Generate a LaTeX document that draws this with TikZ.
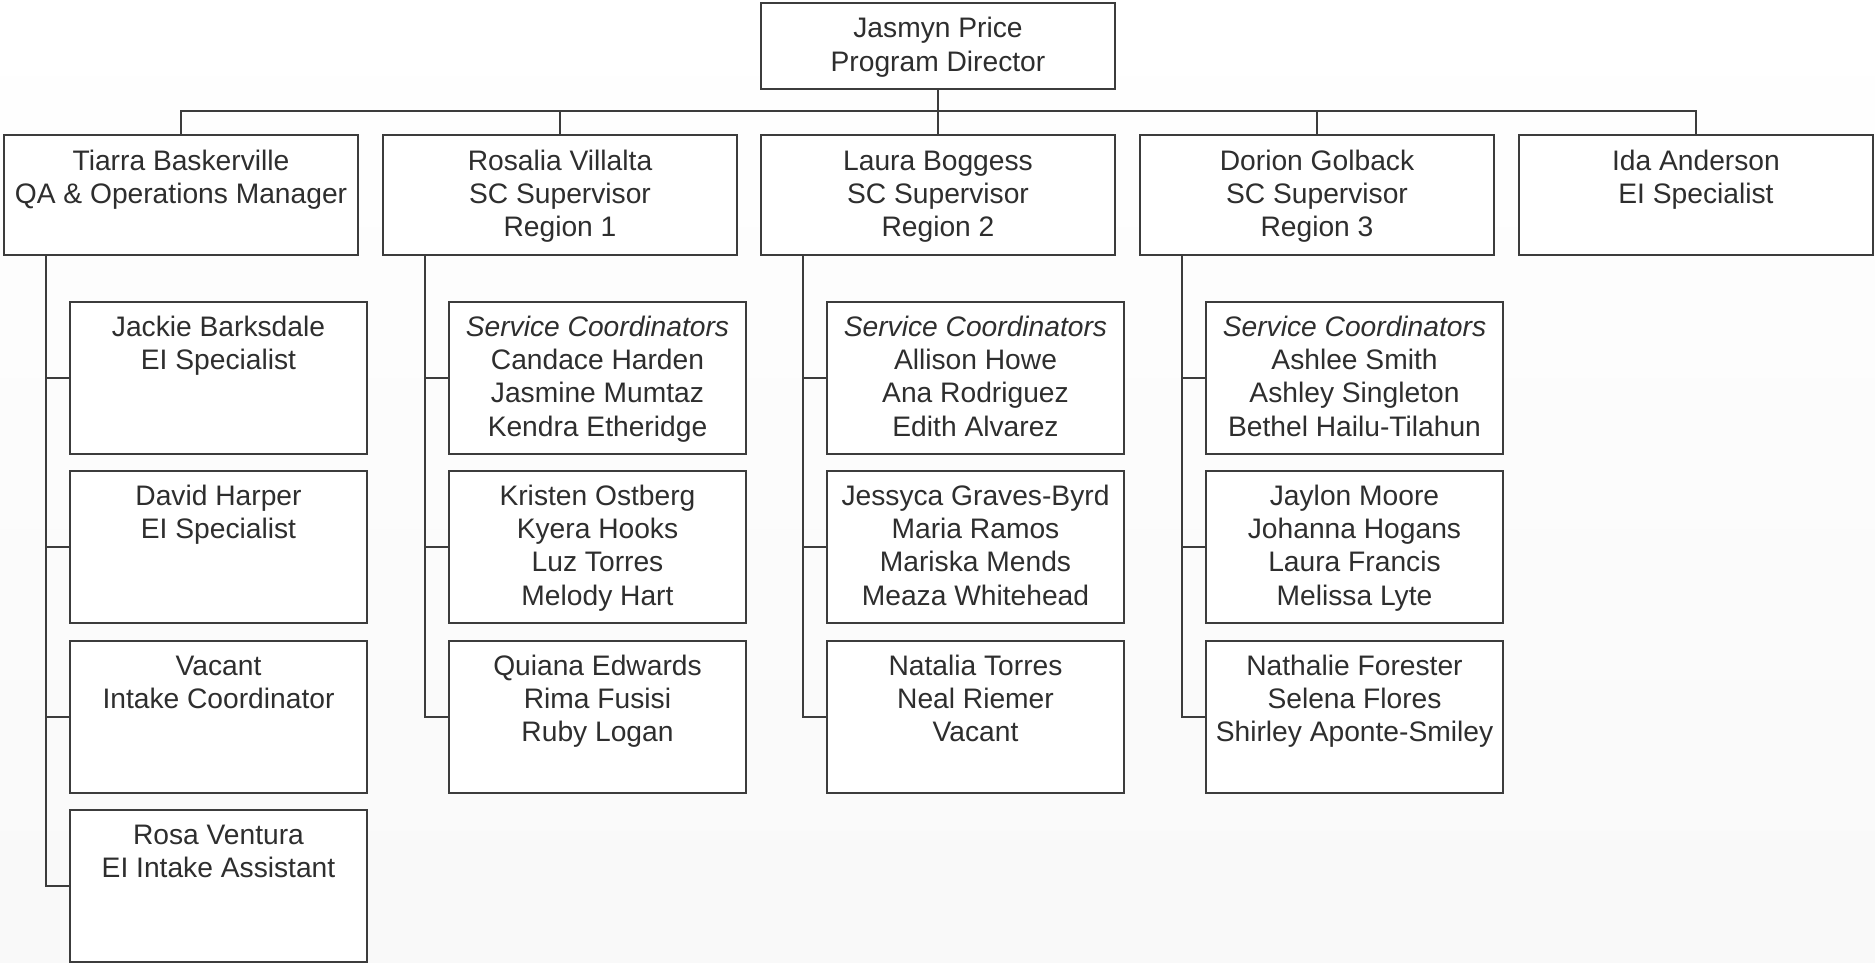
\documentclass[tikz,border=0pt]{standalone}
\usepackage{fontspec}
\setmainfont{Liberation Sans}
\definecolor{ink}{HTML}{2E2E2E}
\definecolor{rule}{HTML}{3C3C3C}
\newcommand{\toptext}[1]{\parbox[t][43pt][t]{177pt}{\centering\rule{0pt}{17.5pt}#1}}
\newcommand{\headtext}[1]{\parbox[t][60pt][t]{177pt}{\centering\rule{0pt}{17.5pt}#1}}
\newcommand{\stafftext}[1]{\parbox[t][76pt][t]{148.5pt}{\centering\rule{0pt}{17pt}#1}}

\begin{document}
\begin{tikzpicture}[x=0.5pt,y=-0.5pt]
\tikzset{
  card/.style={draw=rule, fill=white, line width=1pt, inner sep=0pt, anchor=north west,
    text=ink, font=\fontsize{14.1}{16.7}\selectfont},
  link/.style={draw=rule, line width=1pt}
}
\shade [top color=white, bottom color=gray!5] (0,0) rectangle (1875,963);
\useasboundingbox (0,0) rectangle (1875,963);
% director
\node [card] (director) at (760,2) {\toptext{Jasmyn Price\\Program Director}};
% managers and supervisors
\node [card] (tiarra) at (3,134) {\headtext{Tiarra Baskerville\\QA \& Operations Manager}};
\node [card] (rosalia) at (382,134) {\headtext{Rosalia Villalta\\SC Supervisor\\Region 1}};
\node [card] (laura) at (760,134) {\headtext{Laura Boggess\\SC Supervisor\\Region 2}};
\node [card] (dorion) at (1139,134) {\headtext{Dorion Golback\\SC Supervisor\\Region 3}};
\node [card] (ida) at (1518,134) {\headtext{Ida Anderson\\EI Specialist}};
% staff under tiarra
\node [card] (jackie) at (69,301) {\stafftext{Jackie Barksdale\\EI Specialist}};
\node [card] (david) at (69,470) {\stafftext{David Harper\\EI Specialist}};
\node [card] (vacant) at (69,640) {\stafftext{Vacant\\Intake Coordinator}};
\node [card] (rosa) at (69,809) {\stafftext{Rosa Ventura\\EI Intake Assistant}};
% region 1
\node [card] (regA1) at (448,301) {\stafftext{\textit{Service Coordinators}\\Candace Harden\\Jasmine Mumtaz\\Kendra Etheridge}};
\node [card] (regA2) at (448,470) {\stafftext{Kristen Ostberg\\Kyera Hooks\\Luz Torres\\Melody Hart}};
\node [card] (regA3) at (448,640) {\stafftext{Quiana Edwards\\Rima Fusisi\\Ruby Logan}};
% region 2
\node [card] (regB1) at (826,301) {\stafftext{\textit{Service Coordinators}\\Allison Howe\\Ana Rodriguez\\Edith Alvarez}};
\node [card] (regB2) at (826,470) {\stafftext{Jessyca Graves-Byrd\\Maria Ramos\\Mariska Mends\\Meaza Whitehead}};
\node [card] (regB3) at (826,640) {\stafftext{Natalia Torres\\Neal Riemer\\Vacant}};
% region 3
\node [card] (regC1) at (1205,301) {\stafftext{\textit{Service Coordinators}\\Ashlee Smith\\Ashley Singleton\\Bethel Hailu-Tilahun}};
\node [card] (regC2) at (1205,470) {\stafftext{Jaylon Moore\\Johanna Hogans\\Laura Francis\\Melissa Lyte}};
\node [card] (regC3) at (1205,640) {\stafftext{Nathalie Forester\\Selena Flores\\Shirley Aponte-Smiley}};
% bus from director
\coordinate (bus) at (0,111);
\draw [link] (director.south) -- (director.south |- bus);
\draw [link] (tiarra.north) |- (ida.north |- bus) -- (ida.north);
\foreach \h in {rosalia,laura,dorion}
  \draw [link] (\h.north |- bus) -- (\h.north);
% trunks
\coordinate (tiarraT) at ([xshift=21.5pt]tiarra.south west);
\coordinate (rosaliaT) at ([xshift=21.5pt]rosalia.south west);
\coordinate (lauraT) at ([xshift=21.5pt]laura.south west);
\coordinate (dorionT) at ([xshift=21.5pt]dorion.south west);
\draw [link] (tiarraT) |- (rosa.west);
\draw [link] (rosaliaT) |- (regA3.west);
\draw [link] (lauraT) |- (regB3.west);
\draw [link] (dorionT) |- (regC3.west);
\foreach \c in {jackie,david,vacant}
  \draw [link] (tiarraT |- \c.west) -- (\c.west);
\foreach \c in {regA1,regA2}
  \draw [link] (rosaliaT |- \c.west) -- (\c.west);
\foreach \c in {regB1,regB2}
  \draw [link] (lauraT |- \c.west) -- (\c.west);
\foreach \c in {regC1,regC2}
  \draw [link] (dorionT |- \c.west) -- (\c.west);
\end{tikzpicture}
\end{document}
